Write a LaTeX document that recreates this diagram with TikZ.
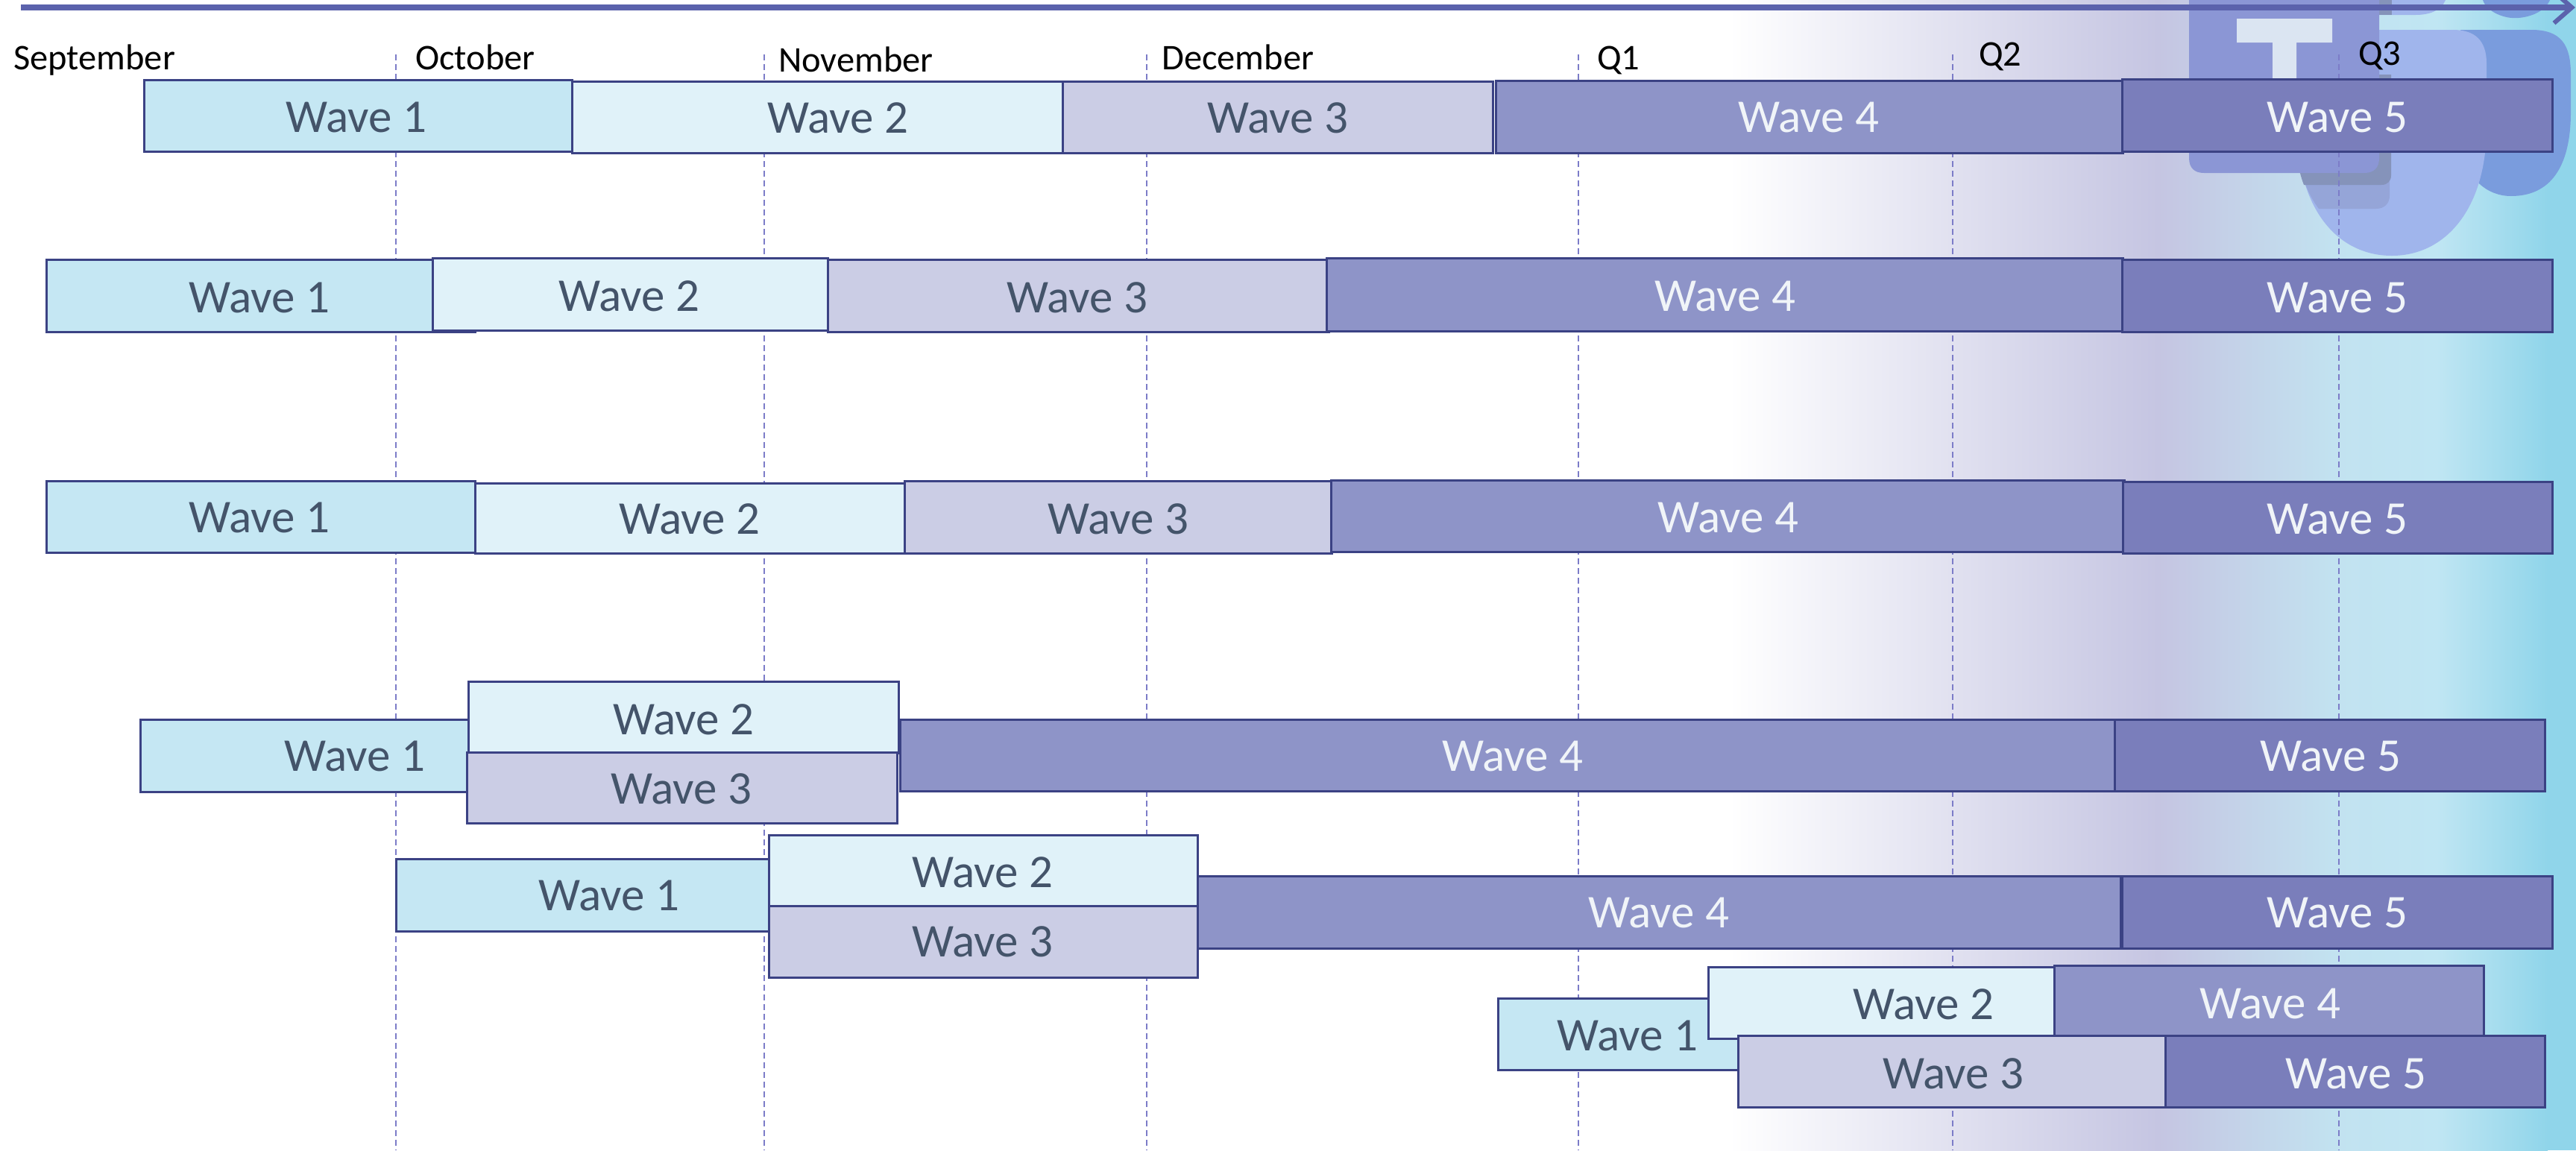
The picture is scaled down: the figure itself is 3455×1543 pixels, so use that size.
\documentclass[tikz,border=0pt]{standalone}
\usepackage{fontspec}
\setmainfont{Carlito}
\usetikzlibrary{arrows.meta}
\definecolor{edgeC}{HTML}{3B4284}
\definecolor{fOne}{HTML}{C5E7F3}
\definecolor{fTwo}{HTML}{E0F2F9}
\definecolor{fThree}{HTML}{CBCDE5}
\definecolor{fFour}{HTML}{8E94C8}
\definecolor{fFive}{HTML}{7A7EBB}
\definecolor{darkTxt}{HTML}{44546A}
\definecolor{lightTxt}{HTML}{F0F4F8}
\definecolor{gLav}{HTML}{C5C5E2}
\definecolor{gMid}{HTML}{C2E2F0}
\definecolor{gSky}{HTML}{C0E6F3}
\definecolor{gEnd}{HTML}{90D5EA}
\definecolor{arrowC}{HTML}{5B62AC}
\definecolor{gridC}{HTML}{7C7CC8}
\definecolor{logoA}{HTML}{8B96D5}
\definecolor{logoB}{HTML}{A0B5EC}
\definecolor{logoC}{HTML}{7A9CDD}
\definecolor{logoD}{HTML}{8593BA}
\definecolor{logoE}{HTML}{95A5D8}
\definecolor{logoT}{HTML}{DBE5F2}
\tikzset{
  waveone/.style={draw=edgeC,fill=fOne},
  wavetwo/.style={draw=edgeC,fill=fTwo},
  wavethree/.style={draw=edgeC,fill=fThree},
  wavefour/.style={draw=edgeC,fill=fFour},
  wavefive/.style={draw=edgeC,fill=fFive},
  darklabel/.style={anchor=base,inner sep=0pt,text=darkTxt,font=\fontsize{63}{70}\selectfont},
  lightlabel/.style={anchor=base,inner sep=0pt,text=lightTxt,font=\fontsize{63}{70}\selectfont},
  period/.style={anchor=base west,inner sep=0pt,text=black,font=\fontsize{48.5}{54}\selectfont},
  gridline/.style={draw=gridC,line width=1.6pt,dash pattern=on 8pt off 5pt},
}
% name, style, x1, y1, x2, y2
\newcommand\wavebox[6]{%
  \pgfmathsetmacro\wcx{(#3+#5)/2}\pgfmathsetmacro\wcy{(#4+#6)/2}%
  \pgfmathsetmacro\wdx{#5-#3}\pgfmathsetmacro\wdy{#6-#4}%
  \node[#2,line width=3pt,inner sep=0pt,outer sep=0pt,minimum width=\wdx pt,minimum height=\wdy pt] (#1) at (\wcx,\wcy) {};}
\begin{document}
\begin{tikzpicture}[x=1pt,y=-1pt]
\useasboundingbox (0,0) rectangle (3455,1543);
\fill[white] (0,0) rectangle (3455,1543);
% background gradient
\shade[left color=white,right color=gLav] (2320,0) rectangle (2895,1543);
\shade[left color=gLav,right color=gMid] (2894.5,0) rectangle (3130,1543);
\shade[left color=gMid,right color=gSky] (3129.5,0) rectangle (3268,1543);
\shade[left color=gSky,right color=gEnd] (3267.5,0) rectangle (3417,1543);
\fill[gEnd] (3416.5,0) rectangle (3455,1543);
% watermark logo
\fill[logoC] (3300,40) -- (3395,40) .. controls (3435,40) and (3448,60) .. (3448,100) -- (3448,150) .. controls (3448,225) and (3420,263) .. (3368,263) .. controls (3335,263) and (3310,240) .. (3300,200) -- cycle;
\fill[logoC] (3330,0) .. controls (3335,16) and (3360,26) .. (3378,24) .. controls (3400,22) and (3415,12) .. (3420,0) -- cycle;
\fill[logoB] (3180,0) -- (3280,0) .. controls (3275,12) and (3262,20) .. (3240,20) -- (3180,20) -- cycle;
\fill[logoB] (3081,40) -- (3290,40) .. controls (3320,40) and (3335,55) .. (3335,85) -- (3335,170) .. controls (3335,280) and (3280,343) .. (3208,343) .. controls (3135,343) and (3081,280) .. (3081,170) -- cycle;
\fill[logoE] (3081,100) -- (3205,100) -- (3205,262) .. controls (3205,273) and (3198,280) .. (3187,280) -- (3110,280) .. controls (3095,260) and (3085,235) .. (3081,200) -- cycle;
\fill[logoD] (3081,100) -- (3207,100) -- (3207,235) .. controls (3207,243) and (3202,248) .. (3194,248) -- (3090,248) .. controls (3086,238) and (3083,225) .. (3081,215) -- cycle;
\fill[logoD] (3185,0) rectangle (3208,20);
\fill[logoA] (2936,0) -- (3191,0) -- (3191,212) .. controls (3191,225) and (3184,232) .. (3171,232) -- (2956,232) .. controls (2943,232) and (2936,225) .. (2936,212) -- cycle;
\fill[logoT] (3000,25) -- (3128,25) -- (3128,57) -- (3080,57) -- (3080,110) -- (3048,110) -- (3048,57) -- (3000,57) -- cycle;
% grid lines
\foreach \n/\gx in {a/531,b/1025,c/1538,d/2117,e/2619,f/3137}{
  \coordinate (top\n) at (\gx,73);
  \coordinate (bot\n) at (\gx,1543);
  \draw[gridline] (top\n) -- (bot\n);
}
% time arrow
\coordinate (arrowstart) at (28,10);
\coordinate (arrowend) at (3454,10);
\draw[arrowC,line width=8pt,-{Straight Barb[length=24pt,width=42pt,line width=6pt]}] (arrowstart) -- (arrowend);
% period labels
\node[period] (sep) at (18,93) {September};
\node[period] (oct) at (557,93) {October};
\node[period] (nov) at (1044,96) {November};
\node[period] (dec) at (1558,93) {December};
\node[period] (qa) at (2142,93) {Q1};
\node[period] (qb) at (2654,88) {Q2};
\node[period] (qc) at (3163,87) {Q3};
% row 1
\wavebox{ra1}{waveone}{193}{107}{767}{203}
\wavebox{ra2}{wavetwo}{767}{109}{1425}{205}
\wavebox{ra3}{wavethree}{1425}{109}{2002}{205}
\wavebox{ra4}{wavefour}{2006}{108}{2847}{205}
\wavebox{ra5}{wavefive}{2846}{106}{3423}{203}
\node[darklabel] (ta1) at (478,177) {Wave 1};
\node[darklabel] (ta2) at (1124,178) {Wave 2};
\node[darklabel] (ta3) at (1714,178) {Wave 3};
\node[lightlabel] (ta4) at (2426,177) {Wave 4};
\node[lightlabel] (ta5) at (3135,177) {Wave 5};
% row 2
\wavebox{rb1}{waveone}{62}{348}{637}{445}
\wavebox{rb2}{wavetwo}{580}{346}{1110}{443}
\wavebox{rb3}{wavethree}{1110}{348}{1782}{445}
\wavebox{rb4}{wavefour}{1779}{346}{2847}{444}
\wavebox{rb5}{wavefive}{2846}{348}{3423}{445}
\node[darklabel] (tb1) at (348,419) {Wave 1};
\node[darklabel] (tb2) at (844,417) {Wave 2};
\node[darklabel] (tb3) at (1445,419) {Wave 3};
\node[lightlabel] (tb4) at (2314,417) {Wave 4};
\node[lightlabel] (tb5) at (3135,419) {Wave 5};
% row 3
\wavebox{rc1}{waveone}{62}{645}{637}{741}
\wavebox{rc2}{wavetwo}{637}{648}{1213}{742}
\wavebox{rc3}{wavethree}{1213}{645}{1786}{742}
\wavebox{rc4}{wavefour}{1785}{644}{2849}{740}
\wavebox{rc5}{wavefive}{2847}{646}{3423}{742}
\node[darklabel] (tc1) at (348,714) {Wave 1};
\node[darklabel] (tc2) at (925,716) {Wave 2};
\node[darklabel] (tc3) at (1500,716) {Wave 3};
\node[lightlabel] (tc4) at (2318,714) {Wave 4};
\node[lightlabel] (tc5) at (3135,716) {Wave 5};
% row 4
\wavebox{rd1}{waveone}{188}{965}{630}{1062}
\wavebox{rd2}{wavetwo}{628}{914}{1205}{1010}
\wavebox{rd3}{wavethree}{626}{1009}{1203}{1104}
\wavebox{rd4}{wavefour}{1207}{965}{2836}{1061}
\wavebox{rd5}{wavefive}{2836}{965}{3413}{1061}
\node[darklabel] (td1) at (476,1034) {Wave 1};
\node[darklabel] (td2) at (917,985) {Wave 2};
\node[darklabel] (td3) at (914,1078) {Wave 3};
\node[lightlabel] (td4) at (2029,1034) {Wave 4};
\node[lightlabel] (td5) at (3126,1034) {Wave 5};
% row 5
\wavebox{re1}{waveone}{531}{1152}{1031}{1249}
\wavebox{re2}{wavetwo}{1031}{1120}{1606}{1215}
\wavebox{re3}{wavethree}{1031}{1215}{1606}{1311}
\wavebox{re4}{wavefour}{1606}{1175}{2844}{1272}
\wavebox{re5}{wavefive}{2846}{1175}{3423}{1272}
\node[darklabel] (te1) at (817,1221) {Wave 1};
\node[darklabel] (te2) at (1318,1190) {Wave 2};
\node[darklabel] (te3) at (1318,1283) {Wave 3};
\node[lightlabel] (te4) at (2225,1244) {Wave 4};
\node[lightlabel] (te5) at (3135,1244) {Wave 5};
% row 6
\wavebox{rf1}{waveone}{2009}{1339}{2400}{1435}
\wavebox{rf2}{wavetwo}{2291}{1297}{2760}{1393}
\wavebox{rf4}{wavefour}{2755}{1295}{3331}{1392}
\wavebox{rf3}{wavethree}{2331}{1389}{2905}{1485}
\wavebox{rf5}{wavefive}{2904}{1389}{3413}{1485}
\node[darklabel] (tf1) at (2183,1409) {Wave 1};
\node[darklabel] (tf2) at (2580,1367) {Wave 2};
\node[lightlabel] (tf4) at (3045,1366) {Wave 4};
\node[darklabel] (tf3) at (2620,1460) {Wave 3};
\node[lightlabel] (tf5) at (3160,1460) {Wave 5};
\end{tikzpicture}
\end{document}
